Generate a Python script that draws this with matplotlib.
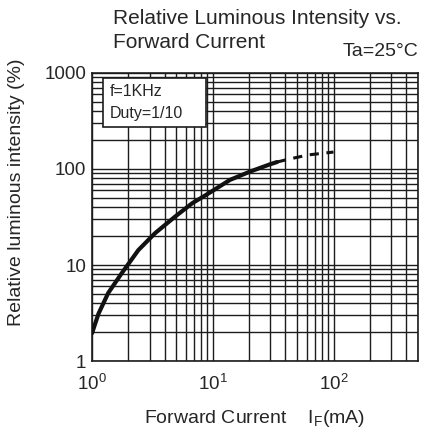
import matplotlib
matplotlib.use("Agg")
import matplotlib.pyplot as plt
from matplotlib.patches import Rectangle
from matplotlib.ticker import LogLocator, NullFormatter

plt.rcParams['font.family'] = ['Liberation Sans', 'DejaVu Sans']

# curve
current_solid = [1.0, 1.13, 1.36, 1.76, 2.42, 3.32, 4.86, 6.76, 8.87, 13.9, 20.4, 29.9, 34]
lum_solid = [1.95, 3.1, 5.1, 8.2, 14.3, 21.4, 31.8, 44, 54, 77, 94, 112, 118]
current_dashed = [34, 42, 61.6, 100]
lum_dashed = [118, 126, 140, 150]

ink = '#1c1c1c'
text_ink = '#262626'

fig = plt.figure(figsize=(4.26, 4.34), dpi=100)
ax = fig.add_axes([0.216, 0.168, 0.765, 0.664])

ax.set_xscale('log')
ax.set_yscale('log')
ax.set_xlim(1, 500)
ax.set_ylim(1, 1000)

ax.xaxis.set_major_locator(LogLocator(base=10, numticks=10))
ax.xaxis.set_minor_locator(LogLocator(base=10, subs=range(2, 10), numticks=20))
ax.yaxis.set_minor_locator(LogLocator(base=10, subs=range(2, 10), numticks=20))
ax.xaxis.set_minor_formatter(NullFormatter())
ax.yaxis.set_minor_formatter(NullFormatter())
ax.set_yticks([1, 10, 100, 1000])
ax.set_yticklabels(['1', '10', '100', '1000'])

ax.grid(True, which='both', color=ink, linewidth=1.0)
ax.set_axisbelow(True)
ax.tick_params(which='both', length=0, labelsize=13.5, colors=text_ink)
ax.tick_params(axis='y', pad=4)
ax.tick_params(axis='x', pad=9)
for s in ax.spines.values():
    s.set_color(ink)
    s.set_linewidth(1.2)

ax.plot(current_solid, lum_solid, color='#111111', linewidth=3.0,
        solid_capstyle='round', zorder=3)
ax.plot(current_dashed, lum_dashed, color='#111111', linewidth=2.2,
        linestyle=(0, (3, 2.5)), zorder=3)

# condition box
ax.add_patch(Rectangle((0.034, 0.8125), 0.316, 0.17, transform=ax.transAxes,
                       facecolor='white', edgecolor=ink, linewidth=1.2, zorder=4))
ax.text(0.055, 0.935, 'f=1KHz', transform=ax.transAxes, fontsize=11.5,
        color=text_ink, va='center', zorder=5)
ax.text(0.055, 0.86, 'Duty=1/10', transform=ax.transAxes, fontsize=11.5,
        color=text_ink, va='center', zorder=5)

ax.set_ylabel('Relative luminous intensity (%)', fontsize=14, color=text_ink)
ax.yaxis.set_label_coords(-0.205, 0.587)
ax.set_xlabel(r'Forward Current    $\mathregular{I_F}$(mA)', fontsize=14,
              color=text_ink, labelpad=10)

fig.text(113 / 426, 1 - 18 / 434, 'Relative Luminous Intensity vs.', fontsize=15,
         color=text_ink, va='center', ha='left')
fig.text(113 / 426, 1 - 43 / 434, 'Forward Current', fontsize=15,
         color=text_ink, va='center', ha='left')
fig.text(418 / 426, 1 - 52 / 434, 'Ta=25°C', fontsize=14,
         color=text_ink, va='center', ha='right')

fig.savefig('out.png', dpi=100, facecolor='white')
